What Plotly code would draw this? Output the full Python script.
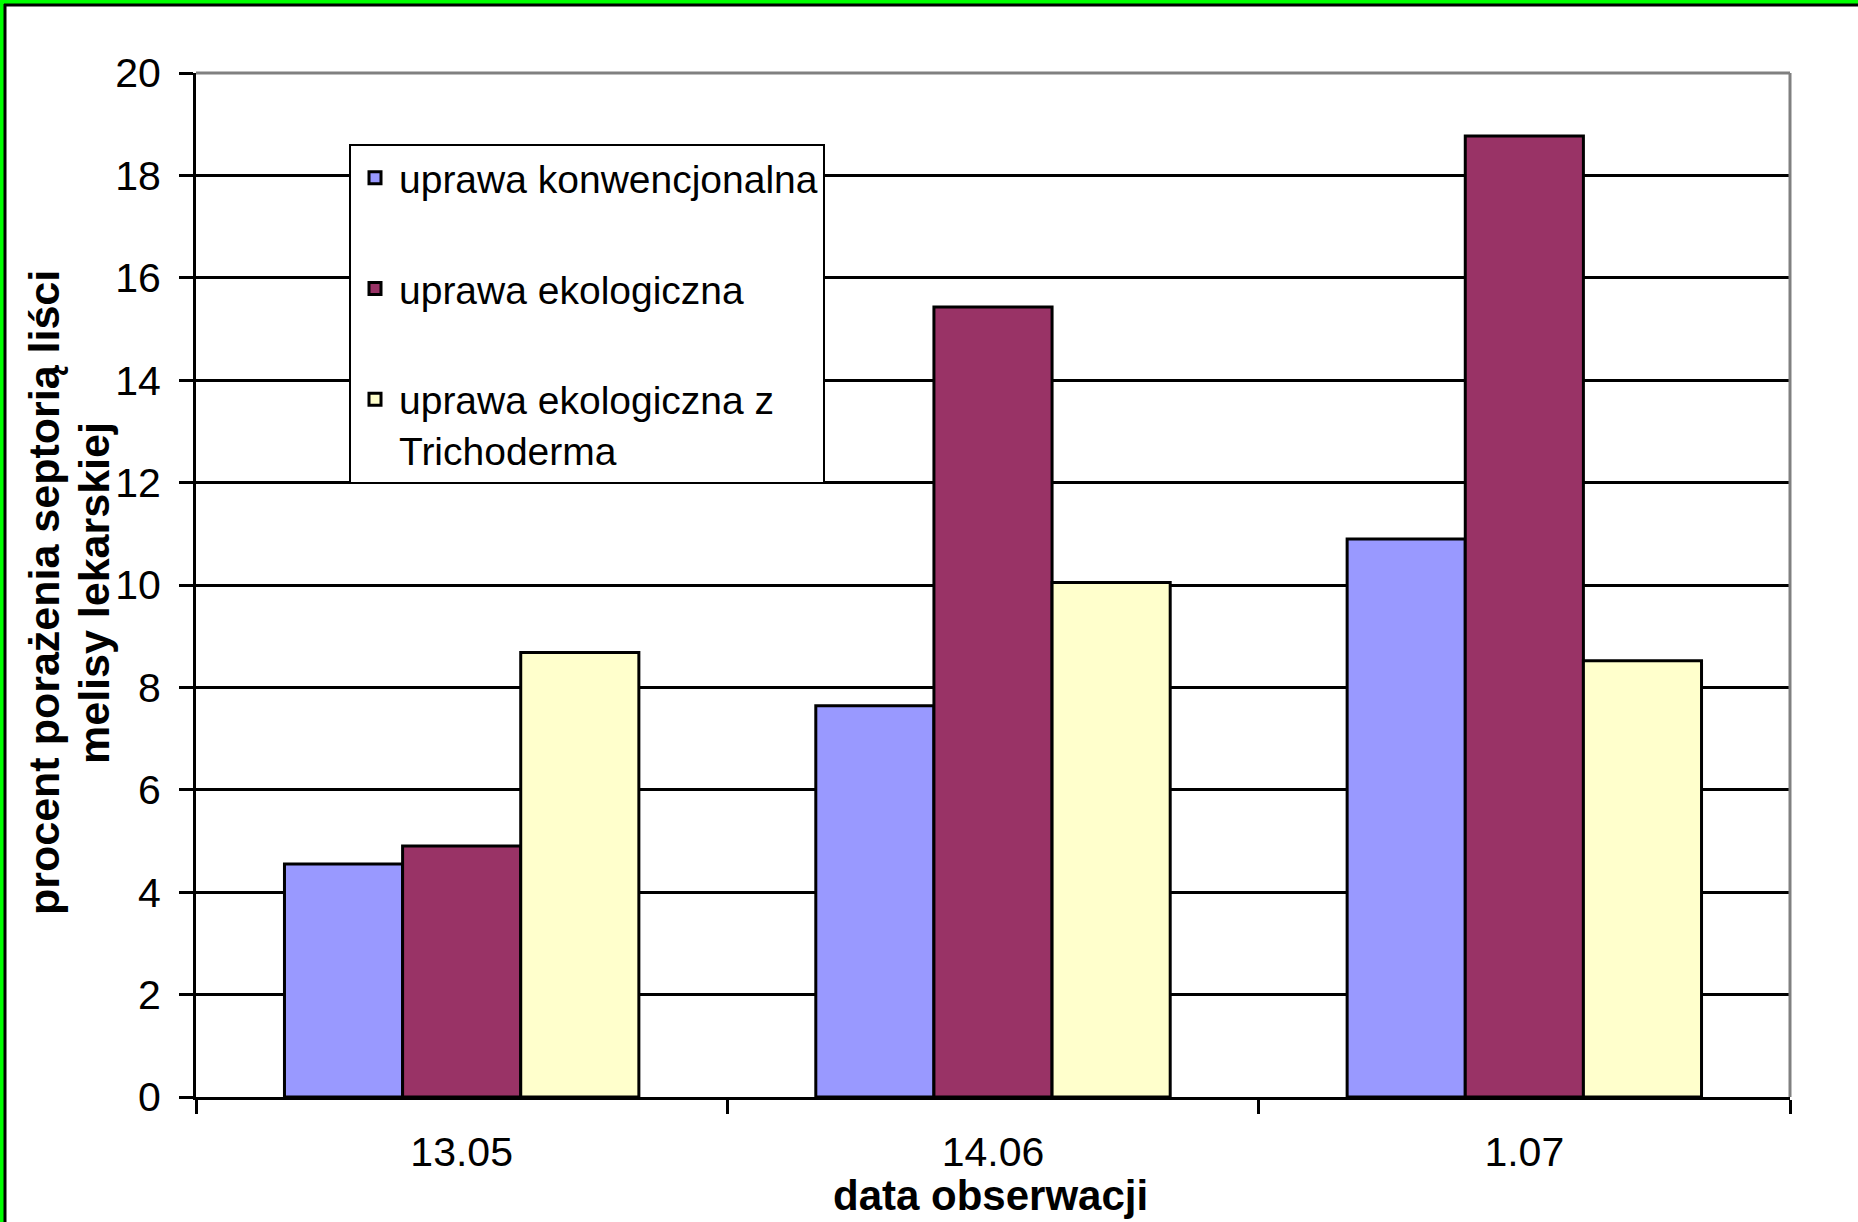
import plotly.graph_objects as go

# Observation dates (categories)
dates = ["13.05", "14.06", "1.07"]

# Percentage of lemon balm leaves infected with septoria, per cultivation type
konwencjonalna = [4.55, 7.64, 10.9]
ekologiczna = [4.9, 15.43, 18.77]
ekologiczna_trichoderma = [8.68, 10.05, 8.52]

series_names = [
    "uprawa konwencjonalna",
    "uprawa ekologiczna",
    "uprawa ekologiczna z<br>Trichoderma",
]
series_values = [konwencjonalna, ekologiczna, ekologiczna_trichoderma]
series_colors = ["#9999FF", "#993366", "#FFFFCC"]

y_ticks = list(range(0, 21, 2))

FONT = "Liberation Sans, Arial, sans-serif"

W, H = 1858, 1222
ML, MR, MT, MB = 196, 68, 73, 125
PW, PH = W - ML - MR, H - MT - MB


def px_x(px):
    return (px - ML) / PW


def px_y(py):
    return (H - MB - py) / PH


fig = go.Figure()
for i, (name, vals, col) in enumerate(zip(series_names, series_values, series_colors)):
    fig.add_trace(go.Bar(
        x=dates, y=vals, name=name,
        marker=dict(color=col, line=dict(color="black", width=3)),
        legendgroup=f"g{i}",
    ))

shapes = [
    # grey frame on top and right of the plotting area
    dict(type="line", xref="paper", yref="paper", x0=0, x1=1, y0=1, y1=1,
         line=dict(color="#808080", width=3), layer="above"),
    dict(type="line", xref="paper", yref="paper", x0=1, x1=1, y0=0, y1=1,
         line=dict(color="#808080", width=3), layer="above"),
    # green and black frame lines along the top and left edges of the figure
    dict(type="line", xref="paper", yref="paper", x0=px_x(0), x1=px_x(W),
         y0=px_y(2), y1=px_y(2), line=dict(color="#00FF00", width=4)),
    dict(type="line", xref="paper", yref="paper", x0=px_x(2), x1=px_x(2),
         y0=px_y(0), y1=px_y(H), line=dict(color="#00FF00", width=4)),
    dict(type="line", xref="paper", yref="paper", x0=px_x(4), x1=px_x(W),
         y0=px_y(5), y1=px_y(5), line=dict(color="black", width=3)),
    dict(type="line", xref="paper", yref="paper", x0=px_x(5), x1=px_x(5),
         y0=px_y(4), y1=px_y(H), line=dict(color="black", width=3)),
]

title_font = dict(family=FONT, size=43, color="black")
annotations = [
    # y-axis title, one annotation per line for tight line spacing
    dict(text="<b>procent porażenia septorią liści</b>",
         xref="paper", yref="paper", x=px_x(44), y=px_y(593),
         xanchor="center", yanchor="middle", textangle=-90, showarrow=False,
         font=title_font),
    dict(text="<b>melisy lekarskiej</b>",
         xref="paper", yref="paper", x=px_x(94), y=px_y(593),
         xanchor="center", yanchor="middle", textangle=-90, showarrow=False,
         font=title_font),
    dict(text="<b>data obserwacji</b>",
         xref="paper", yref="paper", x=px_x(990), y=px_y(1195),
         xanchor="center", yanchor="middle", showarrow=False,
         font=dict(family=FONT, size=42, color="black")),
]

fig.update_layout(
    width=W, height=H,
    margin=dict(l=ML, r=MR, t=MT, b=MB, autoexpand=False),
    paper_bgcolor="white", plot_bgcolor="white",
    barmode="group", bargap=0.333, bargroupgap=0,
    font=dict(family=FONT, color="black"),
    showlegend=True,
    legend=dict(
        x=px_x(349), y=px_y(144), xanchor="left", yanchor="top",
        bgcolor="white", bordercolor="black", borderwidth=2,
        font=dict(family=FONT, size=39, color="black"),
        tracegroupgap=57, valign="top", traceorder="grouped",
        itemwidth=38, entrywidth=445, entrywidthmode="pixels",
    ),
    shapes=shapes,
    annotations=annotations,
)

fig.update_xaxes(
    type="category", tickson="boundaries",
    ticks="outside", ticklen=14, tickwidth=3, tickcolor="black",
    showline=True, linecolor="black", linewidth=3,
    showgrid=False, ticklabelstandoff=17,
    tickfont=dict(family=FONT, size=41, color="black"),
)
fig.update_yaxes(
    range=[0, 20], tickvals=y_ticks,
    ticks="outside", ticklen=14, tickwidth=3, tickcolor="black",
    showline=True, linecolor="black", linewidth=3,
    showgrid=True, gridcolor="black", gridwidth=3,
    zeroline=False, ticklabelstandoff=10,
    tickfont=dict(family=FONT, size=41, color="black"),
)

fig.write_html("out.html")
